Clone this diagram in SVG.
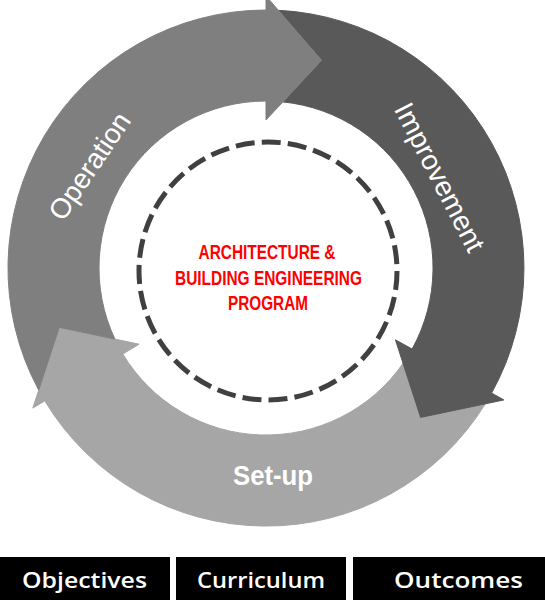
<svg xmlns="http://www.w3.org/2000/svg" width="545" height="600" viewBox="0 0 545 600">
  <style>
    .arrow { stroke-width: 1; stroke-linejoin: miter; }
    .ring-label { fill: #ffffff; font-family: "Liberation Sans", Arial, sans-serif; font-size: 28px; text-anchor: middle; }
    .center-label { fill: #ff0000; font-family: "Liberation Sans", Arial, sans-serif; font-size: 19.5px; font-weight: bold; text-anchor: middle; }
    .box { fill: #000000; }
    .box-label { fill: #ffffff; font-family: "Open Sans", "Noto Sans", sans-serif; font-size: 21px; font-weight: 600; text-anchor: middle; }
  </style>
  <rect width="545" height="600" fill="#ffffff"/>

  <g id="connectors">
    <g id="setup">
      <path class="arrow" fill="#a6a6a6" stroke="#a6a6a6" d="M 485.4,403.8 A 258 258 0 0 1 44.8,400.9 L 32.8,408.1 L 59.3,327.3 L 139.1,344.2 L 122.8,354.0 A 167 167 0 0 0 403.1,363.3 L 420.6,417.4 Z"/>
      <text class="ring-label" x="273" y="485" font-weight="bold" font-size="29" textLength="80" lengthAdjust="spacingAndGlyphs">Set-up</text>
    </g>
    <g id="improvement">
      <path class="arrow" fill="#595959" stroke="#595959" d="M 278.4,10.3 A 258 258 0 0 1 491.6,393.1 L 503.9,399.9 L 420.6,417.4 L 395.4,339.8 L 412.1,349.0 A 167 167 0 0 0 282.9,101.9 L 321.6,60.3 Z"/>
      <text class="ring-label" transform="translate(431.2,181.6) rotate(62.6)">Improvement</text>
    </g>
    <g id="operation">
      <path class="arrow" fill="#7f7f7f" stroke="#7f7f7f" d="M 38.7,390.1 A 258 258 0 0 1 266,10 L 266,-4 L 321.6,60.3 L 266,120 L 266,101 A 167 167 0 0 0 114.9,339.1 L 59.3,327.3 Z"/>
      <text class="ring-label" transform="translate(97.5,171.5) rotate(-56)">Operation</text>
    </g>
  </g>

  <g id="program">
    <circle cx="268" cy="271" r="129" fill="none" stroke="#404040" stroke-width="5" stroke-dasharray="19 7.146"/>
    <text class="center-label" x="267" y="259" textLength="137" lengthAdjust="spacingAndGlyphs">ARCHITECTURE &amp;</text>
    <text class="center-label" x="268.5" y="285" textLength="187" lengthAdjust="spacingAndGlyphs">BUILDING ENGINEERING</text>
    <text class="center-label" x="268" y="310" textLength="80" lengthAdjust="spacingAndGlyphs">PROGRAM</text>
  </g>

  <g id="objectives">
    <rect class="box" x="0" y="557" width="170" height="43"/>
    <text class="box-label" x="84.5" y="588" textLength="125" lengthAdjust="spacingAndGlyphs">Objectives</text>
  </g>
  <g id="curriculum">
    <rect class="box" x="176" y="557" width="170" height="43"/>
    <text class="box-label" x="261" y="588" textLength="128" lengthAdjust="spacingAndGlyphs">Curriculum</text>
  </g>
  <g id="outcomes">
    <rect class="box" x="353" y="557" width="192" height="43"/>
    <text class="box-label" x="458.5" y="588" textLength="129" lengthAdjust="spacingAndGlyphs">Outcomes</text>
  </g>
</svg>
